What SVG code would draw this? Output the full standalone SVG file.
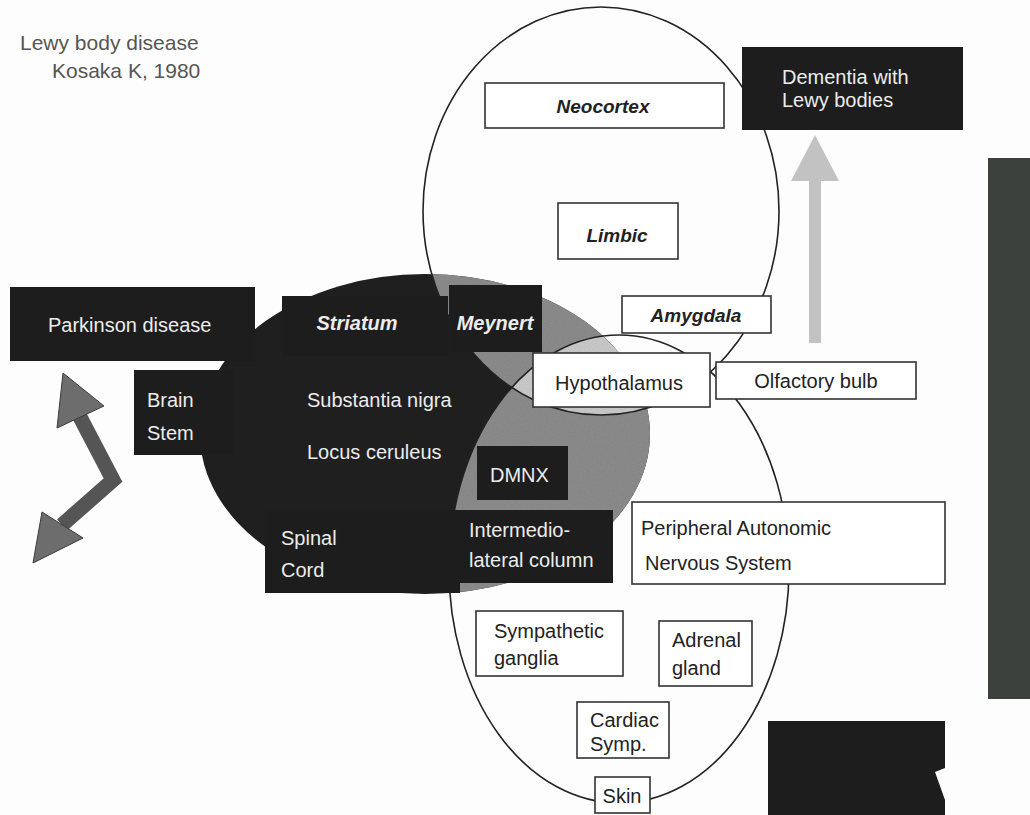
<svg xmlns="http://www.w3.org/2000/svg" width="1030" height="815" viewBox="0 0 1030 815">
<style>
.t{font-family:"Liberation Sans",Arial,sans-serif;font-size:20px;fill:#222}
.w{font-family:"Liberation Sans",Arial,sans-serif;font-size:20px;fill:#ececec}
.bi{font-weight:bold;font-style:italic}
.box{fill:#fff;stroke:#333;stroke-width:1.6}
.blk{fill:#1d1d1d}
.ring{fill:none;stroke:#222;stroke-width:1.6}
</style>
<defs>
<clipPath id="clipDark"><ellipse cx="425" cy="434" rx="225" ry="160"/></clipPath>
<clipPath id="clipUpper"><ellipse cx="601" cy="211" rx="178" ry="204"/></clipPath>
<filter id="grain" x="0" y="0" width="100%" height="100%">
<feTurbulence type="fractalNoise" baseFrequency="0.9" numOctaves="2" seed="3" result="n"/>
<feColorMatrix in="n" type="matrix" values="0 0 0 0 0.5  0 0 0 0 0.5  0 0 0 0 0.5  0 0 0 0.35 0" result="g"/>
<feComposite in="g" in2="SourceGraphic" operator="in" result="gi"/>
<feBlend in="SourceGraphic" in2="gi" mode="multiply"/>
</filter>
</defs>
<rect width="1030" height="815" fill="#fdfdfd"/>

<g id="title">
<text class="t" x="20" y="50" style="fill:#555;font-size:21px">Lewy body disease</text>
<text class="t" x="52" y="78" style="fill:#555;font-size:21px">Kosaka K, 1980</text>
</g>

<g id="regions">
<ellipse id="brainstem-region" cx="425" cy="434" rx="225" ry="160" fill="#1f1f1f"/>
<g clip-path="url(#clipDark)" filter="url(#grain)">
<ellipse cx="601" cy="211" rx="178" ry="204" fill="#8e8e8e"/>
<ellipse cx="619" cy="569" rx="170" ry="234" fill="#8e8e8e"/>
<g clip-path="url(#clipUpper)"><ellipse cx="619" cy="569" rx="170" ry="234" fill="#cdcdcd"/></g>
</g>
<ellipse id="cortex-ellipse" class="ring" cx="601" cy="211" rx="178" ry="204"/>
<ellipse id="peripheral-ellipse" class="ring" cx="619" cy="569" rx="170" ry="234"/>
</g>

<g id="side-bar"><rect x="988" y="158" width="42" height="541" fill="#3d413d"/></g>
<g id="corner-block"><polygon points="768,721 945,721 945,768 935,772 945,800 945,815 768,815" fill="#1d1d1d"/></g>

<g id="connectors">
<g id="arrow-pd" fill="#6d6d6d" stroke="#3a3a3a" stroke-width="1">
<path d="M80,417 L113,480 L62,525" fill="none" stroke="#555" stroke-width="15" stroke-linejoin="miter"/>
<polygon points="63,373 57,428 104,406"/>
<polygon points="33,563 42,512 83,538"/>
</g>
<g id="arrow-dlb" fill="#c2c2c2">
<polygon points="815,135 791,181 839,181"/>
<rect x="809" y="180" width="12" height="163"/>
</g>
</g>

<g id="neocortex"><rect class="box" x="485" y="83" width="239" height="45"/><text class="t bi" x="603" y="113" text-anchor="middle" style="font-size:19px">Neocortex</text></g>
<g id="limbic"><rect class="box" x="558" y="203" width="120" height="56"/><text class="t bi" x="617" y="242" text-anchor="middle" style="font-size:19px">Limbic</text></g>
<g id="amygdala"><rect class="box" x="622" y="296" width="149" height="37"/><text class="t bi" x="696" y="322" text-anchor="middle" style="font-size:19px">Amygdala</text></g>
<g id="hypothalamus"><rect class="box" x="533" y="353" width="177" height="54"/><text class="t" x="619" y="390" text-anchor="middle">Hypothalamus</text></g>
<g id="olfactory"><rect class="box" x="716" y="362" width="200" height="37"/><text class="t" x="816" y="388" text-anchor="middle">Olfactory bulb</text></g>
<g id="pans"><rect class="box" x="632" y="502" width="313" height="82"/><text class="t" x="641" y="535">Peripheral Autonomic</text><text class="t" x="645" y="570">Nervous System</text></g>
<g id="symp-ganglia"><rect class="box" x="476" y="611" width="147" height="65"/><text class="t" x="494" y="638">Sympathetic</text><text class="t" x="494" y="665">ganglia</text></g>
<g id="adrenal"><rect class="box" x="659" y="621" width="93" height="65"/><text class="t" x="672" y="647">Adrenal</text><text class="t" x="672" y="675">gland</text></g>
<g id="cardiac"><rect class="box" x="577" y="702" width="92" height="56"/><text class="t" x="590" y="727">Cardiac</text><text class="t" x="590" y="751">Symp.</text></g>
<g id="skin"><rect class="box" x="595" y="777" width="55" height="36"/><text class="t" x="622" y="803" text-anchor="middle">Skin</text></g>

<g id="dlb"><rect class="blk" x="742" y="47" width="221" height="83"/><text class="w" x="782" y="84">Dementia with</text><text class="w" x="782" y="107">Lewy bodies</text></g>
<g id="parkinson"><rect class="blk" x="10" y="287" width="245" height="74"/><text class="w" x="48" y="332">Parkinson disease</text></g>
<g id="striatum"><rect class="blk" x="282" y="296" width="166" height="60"/><text class="w bi" x="357" y="330" text-anchor="middle">Striatum</text></g>
<g id="meynert"><rect class="blk" x="449" y="285" width="93" height="67"/><text class="w bi" x="495" y="330" text-anchor="middle">Meynert</text></g>
<g id="brainstem"><rect class="blk" x="134" y="370" width="100" height="85"/><text class="w" x="147" y="407">Brain</text><text class="w" x="147" y="440">Stem</text></g>
<g id="sn"><text class="w" x="307" y="407">Substantia nigra</text></g>
<g id="lc"><text class="w" x="307" y="459">Locus ceruleus</text></g>
<g id="dmnx"><rect class="blk" x="477" y="446" width="91" height="54"/><text class="w" x="490" y="482">DMNX</text></g>
<g id="spinal"><rect class="blk" x="265" y="510" width="195" height="83"/><text class="w" x="281" y="545">Spinal</text><text class="w" x="281" y="577">Cord</text></g>
<g id="iml"><rect class="blk" x="455" y="510" width="158" height="73"/><text class="w" x="469" y="537">Intermedio-</text><text class="w" x="469" y="567">lateral column</text></g>
</svg>
